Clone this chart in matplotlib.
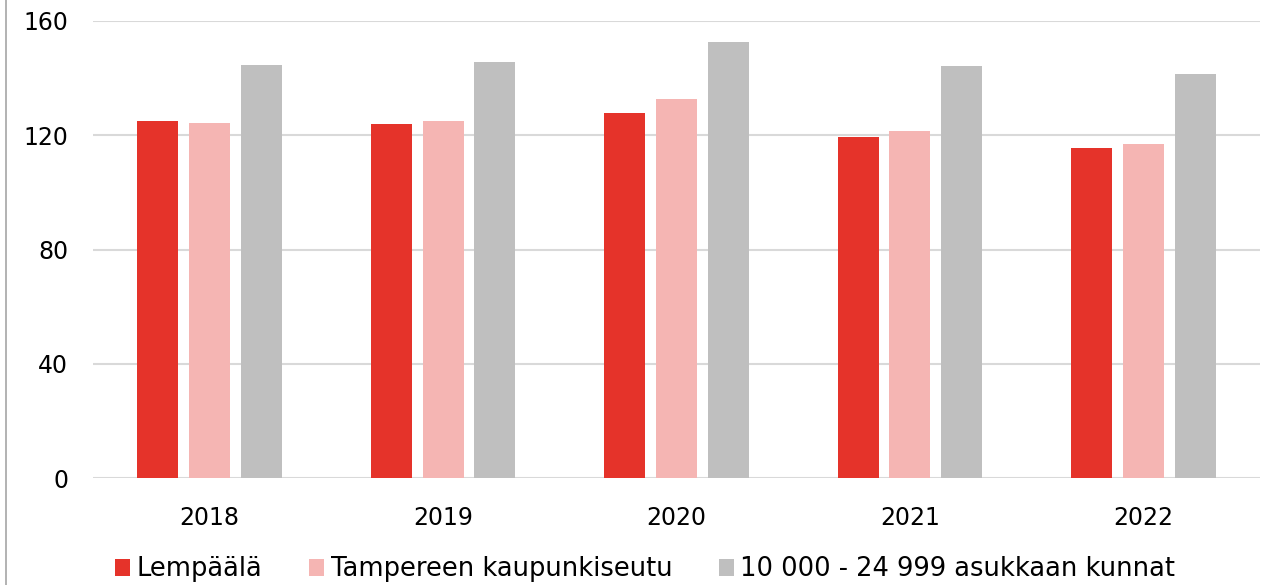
import numpy as np
import matplotlib.pyplot as plt
from matplotlib.lines import Line2D

years = ["2018", "2019", "2020", "2021", "2022"]
lempaala = [125.0, 123.9, 127.8, 119.4, 115.5]
tampere = [124.3, 125.1, 132.7, 121.5, 116.9]
kunnat = [144.5, 145.6, 152.8, 144.1, 141.4]
series_names = ["Lempäälä", "Tampereen kaupunkiseutu", "10 000 - 24 999 asukkaan kunnat"]
colors = ["#e5332a", "#f5b5b3", "#bfbfbf"]

plt.rcParams['font.family'] = ['DejaVu Sans']

fig = plt.figure(figsize=(12.76, 5.85), dpi=100)
ax = fig.add_axes([93/1276, 107/585, (1260-93)/1276, (478-21)/585])

x = np.arange(len(years))
w = 0.176
step = 0.222
for i, (vals, name, c) in enumerate(zip([lempaala, tampere, kunnat], series_names, colors)):
    ax.bar(x + (i-1)*step, vals, w, color=c, label=name, zorder=3)

ax.set_xlim(-0.5, len(years)-0.5)
ax.set_ylim(0, 160)
ax.set_yticks([0, 40, 80, 120, 160])
ax.set_xticks(x)
ax.set_xticklabels(years)
ax.grid(axis='y', color='#d9d9d9', linewidth=1.5, zorder=0)
for s in ax.spines.values():
    s.set_visible(False)
ax.tick_params(axis='both', length=0, labelsize=17, labelcolor='black')
ax.tick_params(axis='y', pad=18)
ax.tick_params(axis='x', pad=20)

fig.add_artist(Line2D([6/1276, 6/1276], [0, 1], color='#a6a6a6', linewidth=1.2))

ax.legend(loc='center left', bbox_to_anchor=(115/1276, 15.5/585), bbox_transform=fig.transFigure,
          ncol=3, frameon=False, fontsize=18.5, handlelength=0.6, handleheight=0.6,
          handletextpad=0.25, columnspacing=1.8, borderaxespad=0, borderpad=0)

fig.savefig("out.png", dpi=100)
